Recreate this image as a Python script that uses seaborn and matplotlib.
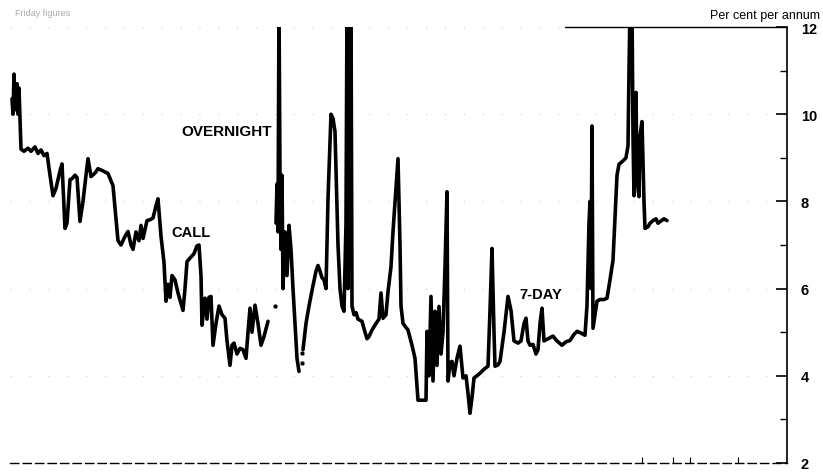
import numpy as np
import pandas as pd
import matplotlib
matplotlib.use('Agg')
import matplotlib.pyplot as plt
import seaborn as sns

# rates, x is a week index (no dates printed on the chart)
call_weeks = [0.5, 0.75, 1.0, 1.25, 1.75, 2.0, 2.25, 2.75, 3.5, 4.5, 5.25, 6.25, 7.0, 7.75, 8.5, 9.25,
              10, 10.75, 11.5, 12.5, 13, 13.75, 14.25, 15, 15.5, 16.25, 16.75, 17.5, 18.25, 19, 19.5,
              20.25, 21.25, 22, 23.25, 24.5, 25.75, 26.5, 27, 27.75, 28.75, 29.5, 30.25, 30.75, 31.5,
              32.25, 32.75, 33.25, 34.25, 35, 35.75, 36.5, 37, 37.75, 38.5, 39, 39.5, 40, 40.5, 41.25,
              42, 43.25, 43.75, 44.25, 45, 46, 46.75, 47.25, 47.75, 48, 48.5, 48.75, 49.25, 49.75,
              50.25, 50.75, 51.5, 52.25, 53, 53.75, 54.25, 55, 55.5, 56, 56.75, 57.5, 58.25, 59, 59.5,
              60, 60.5, 61.25, 62, 62.75, 63.5, 64.5]
call_rates = [10.35, 10.0, 10.92, 10.1, 10.7, 10.0, 10.6, 9.2, 9.15, 9.22, 9.15, 9.25, 9.1, 9.18, 9.05, 9.1,
              8.6, 8.13, 8.3, 8.7, 8.86, 7.38, 7.5, 8.5, 8.52, 8.6, 8.55, 7.54, 8.0, 8.6, 8.98,
              8.57, 8.65, 8.75, 8.7, 8.64, 8.36, 7.6, 7.1, 7.0, 7.2, 7.31, 7.0, 6.9, 7.3,
              7.1, 7.45, 7.15, 7.56, 7.58, 7.62, 7.9, 8.06, 7.2, 6.6, 5.71, 6.1, 5.8, 6.3, 6.2,
              5.9, 5.5, 6.0, 6.62, 6.7, 6.8, 6.98, 7.0, 6.3, 5.16, 5.6, 5.78, 5.3, 5.8,
              5.82, 4.7, 5.2, 5.6, 5.4, 5.32, 4.8, 4.24, 4.7, 4.75, 4.5, 4.63, 4.6, 4.4, 5.0,
              5.55, 5.0, 5.62, 5.2, 4.7, 4.9, 5.25]

overnight_weeks = [66.5, 66.75, 67, 67.25, 67.5, 67.75, 68, 68.25, 68.75, 69.25, 69.75, 70.25, 70.75,
                   71.25, 71.75, 72.25]
overnight_rates = [7.5, 8.4, 7.3, 12.5, 8.6, 6.9, 8.6, 6.0, 7.3, 6.3, 7.45, 6.9, 6.0,
                   5.2, 4.4, 4.1]

mixed_weeks = [73.25, 74, 74.75, 75.75, 76.5, 77, 77.5, 78, 78.5, 79, 79.5, 80.25, 80.75, 81.25, 82,
               82.5, 83, 83.5, 84, 84.25, 84.5, 84.75, 85, 85.25, 85.5, 86, 86.5, 87, 88, 88.75, 89.25,
               89.75, 90.5, 91.5, 92.25, 92.75, 93.25, 94, 94.5, 95.25, 95.75, 96.5, 97, 97.5, 97.75,
               98.25, 99.5, 100.5, 101.25, 102, 103, 104, 104.25, 104.75, 105.25, 105.75, 106.25,
               106.75, 107.25, 107.75, 108.25, 108.75, 109.25, 109.5, 110, 110.5, 111, 111.75, 112.5,
               113.25, 114, 114.5, 115, 115.5, 116, 116.75, 117.5, 118.5, 119.5, 120, 120.5, 121,
               121.25, 122, 122.5, 123.5, 124.5, 125.25, 126, 127, 127.75, 128.5, 129, 129.5, 130,
               130.75, 131.5, 132, 132.5, 133, 133.5, 134.5, 135.75, 136.75, 138, 139, 140, 141,
               141.75, 142.75, 143.75, 144.25, 144.75, 145, 145.25, 145.5, 145.75, 146.25, 146.75,
               147.5, 148.5, 149.25, 150, 150.75, 151.25, 151.75, 152.25, 153.25, 154, 154.5, 154.75,
               155, 155.5, 155.75, 156, 156.5, 156.75, 157.25, 157.5, 158, 158.5, 158.75, 159.5, 160,
               160.75, 161.5, 162, 162.75, 163.5, 164.25]
mixed_rates = [4.6, 5.2, 5.6, 6.07, 6.4, 6.53, 6.4, 6.25, 6.2, 6.0, 8.06, 10.0, 9.9, 9.6, 7.0,
               6.0, 5.6, 5.48, 7.5, 12.5, 6.0, 12.5, 6.5, 12.5, 5.6, 5.4, 5.45, 5.3, 5.25, 5.0, 4.85,
               4.9, 5.05, 5.2, 5.3, 5.9, 5.32, 5.4, 5.93, 6.5, 7.31, 8.3, 8.98, 7.0, 5.6,
               5.2, 5.05, 4.7, 4.4, 3.44, 3.44, 3.44, 5.02, 4.0, 5.82, 3.88, 5.48,
               4.24, 5.59, 4.5, 5.0, 6.5, 8.22, 3.88, 4.3, 4.33, 4.0, 4.4, 4.68,
               3.95, 4.0, 3.6, 3.14, 3.5, 3.95, 4.0, 4.06, 4.15, 4.22, 5.5, 6.92, 5.0,
               4.22, 4.25, 4.33, 5.0, 5.82, 5.5, 4.8, 4.75, 4.8, 5.2, 5.32, 4.8, 4.7,
               4.72, 4.5, 4.6, 5.2, 5.55, 4.8, 4.85, 4.91, 4.8, 4.7, 4.78, 4.81, 4.95,
               5.02, 4.98, 4.93, 5.62, 7.5, 8.0, 6.0, 9.73, 5.09, 5.4, 5.71,
               5.75, 5.75, 5.78, 6.2, 6.65, 7.6, 8.6, 8.85, 8.93, 9.0, 9.28, 11.0,
               12.5, 12.5, 9.5, 8.13, 10.5, 8.5, 8.11, 9.5, 9.83, 8.0, 7.38, 7.42, 7.5,
               7.56, 7.6, 7.5, 7.55, 7.6, 7.56]

dot_weeks = [66.25, 73, 73]
dot_rates = [5.59, 4.52, 4.29]

df = pd.concat([
    pd.DataFrame({"week": call_weeks, "rate": call_rates, "seg": 0}),
    pd.DataFrame({"week": overnight_weeks, "rate": overnight_rates, "seg": 1}),
    pd.DataFrame({"week": mixed_weeks, "rate": mixed_rates, "seg": 2}),
])

sns.set_style("white")
plt.rcParams['font.family'] = ['Liberation Sans', 'DejaVu Sans']
plt.rcParams['text.color'] = 'black'
plt.rcParams['ytick.color'] = 'black'
plt.rcParams['xtick.color'] = 'black'

fig = plt.figure(figsize=(8.23, 4.77), dpi=100)
ax = fig.add_axes([10/823, 13/477, 777/823, 436/477])

sns.lineplot(data=df, x="week", y="rate", units="seg", estimator=None, sort=False,
             color="black", linewidth=2.6, ax=ax, legend=False)
sns.scatterplot(x=dot_weeks, y=dot_rates, color="black", s=12, ax=ax, legend=False)

ax.set_xlim(0, 194.25)
ax.set_ylim(2, 12)
ax.set_xlabel("")
ax.set_ylabel("")

ax.yaxis.tick_right()
ax.set_yticks([2, 4, 6, 8, 10, 12])
ax.set_yticks([3, 5, 7, 9, 11], minor=True)
ax.set_yticklabels(["2", "4", "6", "8", "10", "12"], fontweight="bold", fontsize=10.5)
ax.tick_params(axis="y", which="major", direction="in", length=8, width=1.2, pad=10, right=True, left=False)
ax.tick_params(axis="y", which="minor", direction="in", length=5, width=1.0, right=True, left=False)
ax.set_xticks([158, 165.75, 170, 182])
ax.set_xticklabels([])
ax.tick_params(axis="x", direction="in", length=4, width=0.8, bottom=True)

ax.grid(axis="y", color="#cccccc", linestyle=(0, (1, 16)), linewidth=0.8)

ax.spines["left"].set_visible(False)
ax.spines["top"].set_visible(False)
ax.spines["right"].set_linewidth(1.2)
ax.spines["right"].set_color("black")
ax.spines["bottom"].set_linestyle((0, (6, 3)))
ax.spines["bottom"].set_linewidth(1.0)
ax.spines["bottom"].set_color("black")
ax.axhline(12, xmin=0.714, xmax=1, color="black", linewidth=1.0, clip_on=False)

ax.text(54.25, 9.62, "OVERNIGHT", fontsize=11, fontweight="bold", ha="center", va="center", color="black")
ax.text(45.25, 7.29, "CALL", fontsize=10.5, fontweight="bold", ha="center", va="center", color="black")
ax.text(132.75, 5.87, "7-DAY", fontsize=10.5, fontweight="bold", ha="center", va="center", color="black")

fig.text(15/823, 1 - 14/477, "Friday figures", fontsize=6.5, color="#aaaaaa", va="center")
fig.text(820/823, 1 - 16/477, "Per cent per annum", fontsize=9, ha="right", va="center", color="black")

fig.savefig("out.png", dpi=100)
